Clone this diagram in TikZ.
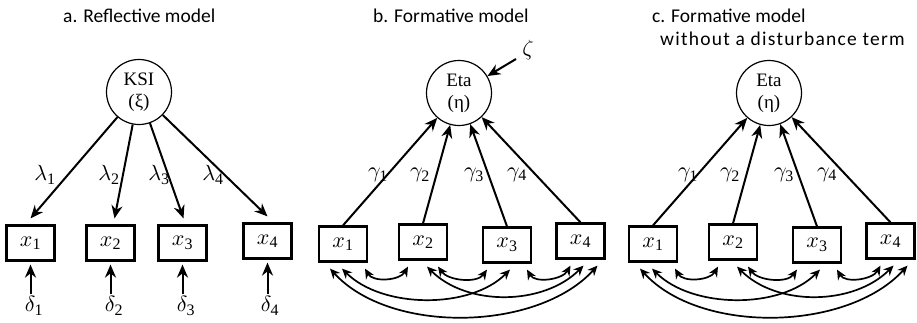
\documentclass[tikz,border=0pt]{standalone}
\usepackage{fontspec}
\setmainfont{Liberation Serif}
\newfontfamily\titlefont{Carlito}
\DeclareFontShape{OML}{cmm}{m}{it}{<-> cmmi10}{}
\usetikzlibrary{arrows.meta,calc}
\newcommand{\ssub}[1]{_{\mbox{\fontsize{16}{16}\selectfont #1}}}
\newcommand{\formpanel}[2]{%
\begin{scope}[xshift=#2pt]
\node[latent] (#1eta) at (459,93) {Eta\\(η)};
\node[obs] (#1x1) at (343,244) {$x\ssub{1}$};
\node[obs] (#1x2) at (423,242) {$x\ssub{2}$};
\node[obs] (#1x3) at (507,245) {$x\ssub{3}$};
\node[obs] (#1x4) at (580.5,241) {$x\ssub{4}$};
\foreach \i in {1,...,4} {\draw[arr] (#1x\i.north) -- (#1eta);}
\node[lbl] (#1g1) at (378,175) {$\gamma\ssub{1}$};
\node[lbl] (#1g2) at (420,175) {$\gamma\ssub{2}$};
\node[lbl] (#1g3) at (474,175) {$\gamma\ssub{3}$};
\node[lbl] (#1g4) at (517,175) {$\gamma\ssub{4}$};
\coordinate (#1p1a) at ($(#1x1.south)+(-13,6)$);
\coordinate (#1p1b) at ($(#1x1.south)+(-1,6)$);
\coordinate (#1p1c) at ($(#1x1.south)+(22,6)$);
\coordinate (#1p2a) at ($(#1x2.south)+(-15,6)$);
\coordinate (#1p2b) at ($(#1x2.south)+(4,6)$);
\coordinate (#1p2c) at ($(#1x2.south)+(15,6)$);
\coordinate (#1p3a) at ($(#1x3.south)+(-20,6)$);
\coordinate (#1p3b) at ($(#1x3.south)+(3,6)$);
\coordinate (#1p3c) at ($(#1x3.south)+(20,6)$);
\coordinate (#1p4a) at ($(#1x4.south)+(-10,6)$);
\coordinate (#1p4b) at ($(#1x4.south)+(3,6)$);
\coordinate (#1p4c) at ($(#1x4.south)+(17,6)$);
\draw[cov] (#1p1c) .. controls +(8,14) and +(-8,14) .. (#1p2a);
\draw[cov] (#1p2c) .. controls +(10,14) and +(-10,14) .. (#1p3a);
\draw[cov] (#1p3c) .. controls +(8,14) and +(-8,14) .. (#1p4a);
\draw[cov] (#1p1b) .. controls +(40,40) and +(-40,40) .. (#1p3b);
\draw[cov] (#1p2b) .. controls +(40,40) and +(-40,40) .. (#1p4b);
\draw[cov] (#1p1a) .. controls +(60,66) and +(-60,66) .. (#1p4c);
\end{scope}}
\begin{document}
\begin{tikzpicture}[x=1pt,y=-1pt,
  latent/.style={circle,draw,line width=1.2pt,minimum size=65pt,inner sep=0pt,align=center,font=\fontsize{19}{22}\selectfont},
  obs/.style={draw,line width=2.2pt,minimum width=48pt,minimum height=35pt,inner sep=0pt,font=\fontsize{22}{26}\selectfont},
  lbl/.style={inner sep=0pt,font=\fontsize{22}{26}\selectfont},
  ttl/.style={inner sep=0pt,anchor=base west,font=\titlefont\fontsize{19.5}{23}\selectfont},
  arr/.style={line width=2pt,-{Stealth[length=13pt,width=11pt]}},
  cov/.style={line width=1.7pt,{Stealth[length=10pt,width=9pt]}-{Stealth[length=10pt,width=9pt]}},
]
\useasboundingbox (0,0) rectangle (917,322);
% titles
\node[ttl] (ta) at (63,22) {a. Reflective model};
\node[ttl] (tb) at (373,22) {b. Formative model};
\node[ttl] (tc1) at (652,22) {c. Formative model};
\node[ttl] (tc2) at (660,45) {\addfontfeature{LetterSpace=6.5}without a disturbance term};
% panel a
\node[latent] (ksi) at (139,92) {KSI\\(ξ)};
\node[obs] (a1) at (30.5,243) {$x\ssub{1}$};
\node[obs] (a2) at (110.5,243) {$x\ssub{2}$};
\node[obs] (a3) at (182.5,243) {$x\ssub{3}$};
\node[obs] (a4) at (267.5,241) {$x\ssub{4}$};
\draw[arr] (ksi) -- ([yshift=6pt]a1.north);
\draw[arr] (ksi) -- ([xshift=4pt,yshift=6pt]a2.north);
\draw[arr] (ksi) -- ([xshift=1pt,yshift=6pt]a3.north);
\draw[arr] (ksi) -- ([yshift=6pt]a4.north);
\node[lbl] (l1) at (45,175) {$\lambda\ssub{1}$};
\node[lbl] (l2) at (109,175) {$\lambda\ssub{2}$};
\node[lbl] (l3) at (159,175) {$\lambda\ssub{3}$};
\node[lbl] (l4) at (213,175) {$\lambda\ssub{4}$};
\node[lbl] (d1) at (34,306) {$\delta\ssub{1}$};
\node[lbl] (d2) at (114,306) {$\delta\ssub{2}$};
\node[lbl] (d3) at (186,306) {$\delta\ssub{3}$};
\node[lbl] (d4) at (270,306) {$\delta\ssub{4}$};
\foreach \i in {1,...,4} {\draw[arr,shorten >=3pt,shorten <=2pt] (a\i.south |- d\i.north) -- (a\i.south);}
% panel b
\formpanel{b}{0}
\node[lbl] (zeta) at (528,50) {$\zeta$};
\coordinate (zt) at (516,59);
\draw[arr] (zt) -- (beta);
% panel c
\formpanel{c}{310}
\end{tikzpicture}
\end{document}
